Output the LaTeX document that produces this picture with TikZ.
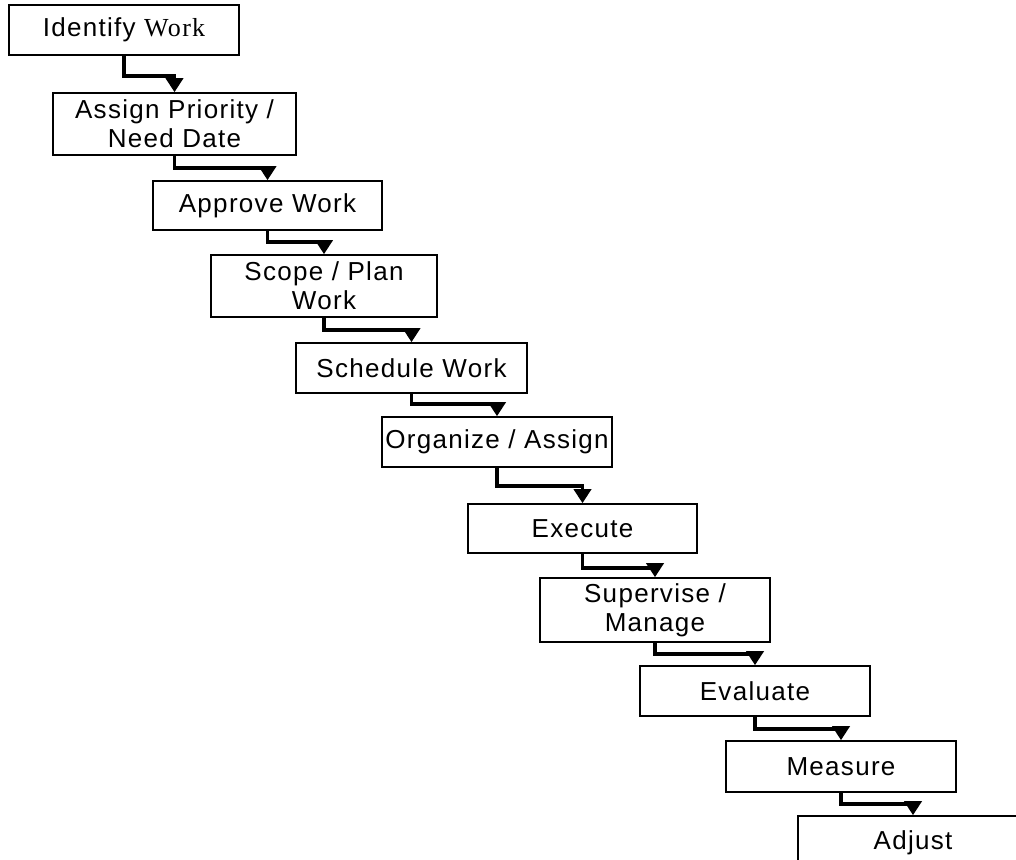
\documentclass[tikz,border=0pt]{standalone}
\usepackage{fontspec}
\setmainfont{Liberation Sans}[LetterSpace=5]
\newfontfamily\timesfont{Liberation Serif}[LetterSpace=5]
\usetikzlibrary{arrows.meta}
\begin{document}
\begin{tikzpicture}[x=1pt,y=-1pt,
    stage/.style={draw,line width=1.6pt,align=center,inner sep=0pt,
      minimum width=230pt,minimum height=50pt,font=\fontsize{26}{29}\selectfont},
    flow/.style={line width=3.5pt,-{Triangle[length=14pt,width=17pt]}}]
  \useasboundingbox (0,0) rectangle (1016,859);
  \node[stage] (identify) at (124,30) {Identify {\timesfont Work}};
  \node[stage,minimum width=243pt,minimum height=62pt] (priority) at (174.5,124) {Assign Priority /\\Need Date};
  \node[stage,minimum width=229pt,minimum height=49pt] (approve) at (267.5,205.5) {Approve Work};
  \node[stage,minimum width=226pt,minimum height=62pt] (scope) at (324,286) {Scope / Plan\\Work};
  \node[stage,minimum width=231pt] (schedule) at (411.5,368) {Schedule Work};
  \node[stage] (organize) at (497,442) {Organize / Assign};
  \node[stage,minimum width=229pt,minimum height=49pt] (execute) at (582.5,528.5) {Execute};
  \node[stage,minimum height=64pt] (supervise) at (655,610) {Supervise /\\Manage};
  \node[stage] (evaluate) at (755,691) {Evaluate};
  \node[stage,minimum height=51pt] (measure) at (841,766.5) {Measure};
  \node[stage,minimum height=54pt] (adjust) at (913,843) {Adjust};
  \draw[flow] (identify.south) -- ++(0,20) -| (priority.north);
  \draw[flow] (priority.south) -- ++(0,12) -| (approve.north);
  \draw[flow] (approve.south) -- ++(0,11) -| (scope.north);
  \draw[flow] (scope.south) -- ++(0,12) -| (schedule.north);
  \draw[flow] (schedule.south) -- ++(0,10) -| (organize.north);
  \draw[flow] (organize.south) -- ++(0,18) -| (execute.north);
  \draw[flow] (execute.south) -- ++(0,14) -| (supervise.north);
  \draw[flow] (supervise.south) -- ++(0,11) -| (evaluate.north);
  \draw[flow] (evaluate.south) -- ++(0,12) -| (measure.north);
  \draw[flow] (measure.south) -- ++(0,11) -| (adjust.north);
\end{tikzpicture}
\end{document}
